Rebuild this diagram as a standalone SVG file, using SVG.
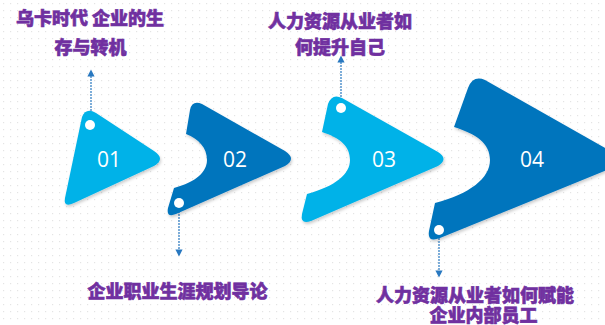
<svg xmlns="http://www.w3.org/2000/svg" width="605" height="325" viewBox="0 0 605 325">
<defs>
<pattern id="dots" width="7" height="7" patternUnits="userSpaceOnUse">
<rect x="3" y="3" width="1.2" height="1.2" fill="#e4e4e4"/>
</pattern>
<filter id="sh" x="-20%" y="-20%" width="140%" height="140%">
<feDropShadow dx="1" dy="2" stdDeviation="1.5" flood-color="#000" flood-opacity="0.2"/>
</filter>
<marker id="arr" viewBox="0 0 10 10" refX="5" refY="5" markerWidth="6" markerHeight="6" orient="auto">
<path d="M0,0 L10,5 L0,10 Z" fill="#2878c0"/>
</marker>
<style>
.lt{fill:#00b2e8;filter:url(#sh)}
.dk{fill:#0074bd;filter:url(#sh)}
.hole{fill:#fff}
.num{font-family:"Open Sans","Noto Sans",sans-serif;font-size:21px;fill:#fff;text-anchor:middle}
.lbl{font-family:"Noto Sans CJK SC",sans-serif;font-weight:900;font-size:18px;fill:#7030a0;stroke:#7030a0;stroke-width:0.6;text-anchor:middle}
.con{stroke:#2878c0;stroke-width:1.2;stroke-dasharray:2 1;fill:none}
</style>
</defs>
<rect width="605" height="325" fill="#fff"/>
<rect width="605" height="325" fill="url(#dots)"/>
<g id="connectors">
<line class="con" x1="91" y1="120" x2="91" y2="73" marker-end="url(#arr)"/>
<line class="con" x1="179" y1="208" x2="179" y2="253" marker-end="url(#arr)"/>
<line class="con" x1="341" y1="103" x2="341" y2="59" marker-end="url(#arr)"/>
<line class="con" x1="439" y1="235" x2="439" y2="274" marker-end="url(#arr)"/>
</g>
<g id="node01">
<path class="lt" d="M82,117 Q86,107 96,113 L154,151 Q166,159 154,166 L74,203 Q63,208 65,198 Z"/>
<circle class="hole" cx="90" cy="125" r="5"/>
<text class="num" x="109" y="167">01</text>
</g>
<g id="node02">
<path class="dk" d="M190,110 Q192,100 202,104 L285,151 Q297,159 285,166 L176,214 Q166,218 168,208 L174,188 C196,182 207,172 207,160 C207,148 199,139 186,134 Z"/>
<circle class="hole" cx="179" cy="203" r="5"/>
<text class="num" x="235" y="167">02</text>
</g>
<g id="node03">
<path class="lt" d="M328,104 Q332,93 342,98 L438,152 Q449,159 438,166 L311,221 Q300,225 302,214 L307,194 C336,186 350,174 350,160 C350,146 340,138 322,132 Z"/>
<circle class="hole" cx="341" cy="108" r="5"/>
<text class="num" x="384" y="167">03</text>
</g>
<g id="node04">
<path class="dk" d="M468,88 Q473,75 485,80 L612,152 Q625,160 612,168 L440,238 Q427,243 429,231 L435,203 C470,194 490,178 490,160 C490,143 476,134 454,127 Z"/>
<circle class="hole" cx="439" cy="230" r="5"/>
<text class="num" x="532" y="167">04</text>
</g>
<g id="label01">
<text class="lbl" x="90" y="24.5">乌卡时代 企业的生</text>
<text class="lbl" x="90.5" y="53.5">存与转机</text>
</g>
<g id="label02">
<text class="lbl" x="177.5" y="297.5">企业职业生涯规划导论</text>
</g>
<g id="label03">
<text class="lbl" x="340" y="27.5">人力资源从业者如</text>
<text class="lbl" x="340" y="53.5">何提升自己</text>
</g>
<g id="label04">
<text class="lbl" x="475" y="301.5">人力资源从业者如何赋能</text>
<text class="lbl" x="483.5" y="321.5">企业内部员工</text>
</g>
</svg>
